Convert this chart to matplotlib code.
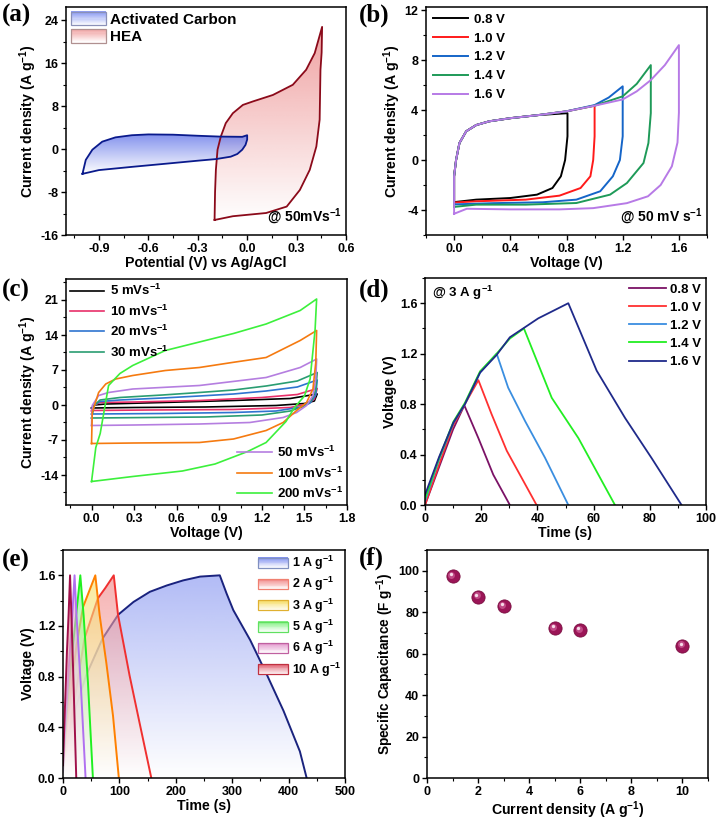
import numpy as np
import matplotlib
matplotlib.use("Agg")
import matplotlib.pyplot as plt
from matplotlib.patches import Polygon, Rectangle, Patch
from matplotlib.legend_handler import HandlerBase
from matplotlib.colors import to_rgb
from matplotlib.ticker import MultipleLocator
import matplotlib.transforms as mtrans

plt.rcParams['font.family'] = ['Liberation Sans', 'DejaVu Sans']
plt.rcParams['font.weight'] = 'bold'
plt.rcParams['axes.labelweight'] = 'bold'
plt.rcParams['mathtext.fontset'] = 'custom'
plt.rcParams['mathtext.rm'] = 'Liberation Sans:bold'
plt.rcParams['mathtext.bf'] = 'Liberation Sans:bold'
plt.rcParams['mathtext.default'] = 'bf'
plt.rcParams['axes.unicode_minus'] = False

# ---------------- data ----------------
# (a) CV comparison
ac_v = [-1.0, -0.98, -0.94, -0.88, -0.8, -0.7, -0.6, -0.45, -0.3, -0.17, -0.03, 0.0,
        0.0, -0.01, -0.03, -0.06, -0.1, -0.19, -0.3, -0.49, -0.7, -0.9, -1.0]
ac_i = [-4.6, -2.0, -0.1, 1.4, 2.2, 2.6, 2.75, 2.7, 2.5, 2.35, 2.3, 2.6,
        1.8, 0.8, -0.1, -0.9, -1.4, -1.85, -2.15, -2.7, -3.3, -3.9, -4.6]
hea_v = [-0.198, -0.195, -0.19, -0.18, -0.16, -0.13, -0.087, -0.026, 0.035, 0.156, 0.277,
         0.358, 0.41, 0.455, 0.452, 0.445, 0.44, 0.42, 0.38, 0.32, 0.24, 0.115, -0.087, -0.198]
hea_i = [-13.2, -8.0, -3.85, -0.1, 2.36, 4.85, 6.7, 8.25, 8.9, 10.1, 12.0,
         14.8, 17.9, 22.8, 18.0, 14.8, 5.5, 0.5, -3.85, -7.6, -10.7, -11.9, -12.5, -13.2]

# (b) CV at different windows
b_labels = ['0.8 V', '1.0 V', '1.2 V', '1.4 V', '1.6 V']
b_colors = ['#000000', '#ff1a1a', '#1565c8', '#1e9a58', '#b77ae6']
b_v = [
    [0, 0, 0.014, 0.038, 0.086, 0.157, 0.25, 0.4, 0.6, 0.807, 0.807, 0.79, 0.76, 0.7, 0.59, 0.4, 0.157, 0],
    [0, 0, 0.014, 0.038, 0.086, 0.157, 0.25, 0.4, 0.6, 0.8, 1.0, 1.0, 0.99, 0.97, 0.9, 0.75, 0.51, 0.16, 0],
    [0, 0, 0.014, 0.038, 0.086, 0.157, 0.25, 0.4, 0.6, 0.8, 1.0, 1.1, 1.2, 1.2, 1.18, 1.13, 1.04, 0.87, 0.63, 0.28, 0],
    [0, 0, 0.014, 0.038, 0.086, 0.157, 0.25, 0.4, 0.6, 0.8, 1.0, 1.2, 1.3, 1.4, 1.4, 1.383, 1.348, 1.23, 1.11, 0.87, 0.51, 0.157, 0],
    [0, 0, 0.014, 0.038, 0.086, 0.157, 0.25, 0.4, 0.6, 0.8, 1.0, 1.2, 1.3, 1.4, 1.5, 1.6, 1.6, 1.59, 1.55, 1.47, 1.38, 1.23, 0.99, 0.75, 0.4, 0.09, 0],
]
b_i = [
    [-3.37, -1.3, 0, 1.36, 2.3, 2.8, 3.1, 3.35, 3.6, 3.75, 1.9, 0, -1.3, -2.24, -2.77, -3.04, -3.17, -3.37],
    [-3.4, -1.3, 0, 1.36, 2.3, 2.8, 3.1, 3.35, 3.6, 3.9, 4.35, 1.9, 0, -1.3, -2.24, -2.85, -3.17, -3.3, -3.4],
    [-3.55, -1.3, 0, 1.36, 2.3, 2.8, 3.1, 3.35, 3.6, 3.9, 4.4, 5.0, 5.9, 1.9, 0, -1.3, -2.5, -3.17, -3.38, -3.45, -3.55],
    [-3.75, -1.3, 0, 1.36, 2.3, 2.8, 3.1, 3.35, 3.6, 3.9, 4.35, 5.1, 6.1, 7.6, 3.76, 1.36, -0.24, -1.84, -2.77, -3.44, -3.57, -3.57, -3.75],
    [-4.3, -1.3, 0, 1.36, 2.3, 2.8, 3.1, 3.35, 3.6, 3.9, 4.35, 4.85, 5.5, 6.4, 7.6, 9.2, 3.8, 1.4, -0.5, -2.0, -2.9, -3.45, -3.85, -3.95, -3.95, -3.9, -4.3],
]

# (c) CV at different scan rates
c_labels = ['5 mVs$^{-1}$', '10 mVs$^{-1}$', '20 mVs$^{-1}$', '30 mVs$^{-1}$',
            '50 mVs$^{-1}$', '100 mVs$^{-1}$', '200 mVs$^{-1}$']
c_colors = ['#000000', '#e8306a', '#2f74d0', '#2a9d72', '#b57ee0', '#f57a10', '#3cf03c']
c_v = [
    [0, 0.02, 0.1, 0.5, 1.0, 1.4, 1.59, 1.57, 1.5, 1.3, 0.8, 0.3, 0],
    [0, 0.02, 0.06, 0.3, 0.76, 1.2, 1.45, 1.59, 1.57, 1.52, 1.4, 1.0, 0.4, 0],
    [0, 0.02, 0.06, 0.2, 0.5, 0.76, 1.0, 1.23, 1.45, 1.59, 1.58, 1.54, 1.48, 1.3, 1.0, 0.5, 0],
    [0, 0.02, 0.06, 0.2, 0.5, 0.76, 1.0, 1.23, 1.45, 1.59, 1.58, 1.55, 1.5, 1.4, 1.2, 0.8, 0.4, 0],
    [0, 0.005, 0.05, 0.12, 0.29, 0.76, 1.23, 1.47, 1.586, 1.58, 1.56, 1.515, 1.445, 1.35, 1.115, 0.76, 0.3, 0],
    [0, 0.005, 0.05, 0.1, 0.17, 0.29, 0.52, 0.76, 0.99, 1.23, 1.47, 1.586, 1.58, 1.56, 1.515, 1.445, 1.35, 1.23, 1.0, 0.76, 0.3, 0],
    [0, 0.03, 0.061, 0.12, 0.2, 0.29, 0.52, 0.76, 1.0, 1.23, 1.47, 1.586, 1.575, 1.54, 1.5, 1.43, 1.37, 1.23, 1.1, 0.87, 0.64, 0.29, 0],
]
c_i = [
    [-0.6, 0, 0.2, 0.5, 0.9, 1.3, 2.2, 0.8, 0.3, -0.1, -0.4, -0.5, -0.6],
    [-1.2, 0, 0.5, 0.6, 0.9, 1.5, 2.1, 3.3, 1.2, 0.2, -0.5, -0.9, -1.0, -1.1],
    [-1.8, 0, 0.7, 1.0, 1.4, 1.8, 2.2, 2.8, 3.6, 5.0, 2.0, 0.4, -0.4, -1.2, -1.5, -1.7, -1.8],
    [-2.6, 0, 1.0, 1.5, 2.0, 2.5, 3.0, 3.8, 4.8, 6.5, 3.0, 1.0, -0.2, -1.2, -2.0, -2.4, -2.5, -2.6],
    [-4.1, -0.1, 1.9, 2.5, 3.2, 3.9, 5.5, 7.5, 9.2, 5.2, 1.9, -0.1, -1.5, -2.5, -3.5, -3.8, -4.0, -4.1],
    [-7.7, -1.5, 2.5, 4.2, 5.2, 5.9, 6.9, 7.5, 8.5, 9.5, 12.9, 14.9, 8.5, 3.2, 0.5, -1.1, -3.5, -5.1, -6.8, -7.5, -7.6, -7.7],
    [-15.3, -8.5, -5.7, 3.9, 6.3, 7.9, 10.9, 12.6, 14.3, 16.2, 18.9, 21.2, 15.0, 5.2, 1.8, -0.5, -3.3, -7.5, -9.3, -11.8, -13.2, -14.3, -15.3],
]

# (d) GCD at 3 A/g, different windows
d_labels = ['0.8 V', '1.0 V', '1.2 V', '1.4 V', '1.6 V']
d_colors = ['#7b1266', '#ff3030', '#3a8ee0', '#22ee22', '#1f2a8a']
d_t = [
    [0, 5, 10, 14, 19, 24.3, 30.2],
    [0, 5, 10, 14.2, 19, 23.7, 29.1, 39.7],
    [0, 5, 10.1, 14.2, 19.6, 25.5, 29.6, 35.6, 42.7, 51.0],
    [0, 5, 10.1, 14.2, 19.6, 25.5, 30.2, 35.2, 45.1, 54.6, 67.6],
    [0, 5, 10.1, 14.2, 19.6, 25.5, 30.2, 35.6, 40.3, 51.0, 61.1, 71.2, 80.7, 91.3],
]
d_v = [
    [0.0, 0.3, 0.6, 0.79, 0.53, 0.24, 0.0],
    [0.0, 0.32, 0.63, 0.8, 0.99, 0.72, 0.43, 0.0],
    [0.03, 0.36, 0.65, 0.8, 1.05, 1.2, 0.93, 0.666, 0.375, 0.0],
    [0.05, 0.37, 0.66, 0.81, 1.06, 1.2, 1.32, 1.4, 0.85, 0.53, 0.0],
    [0.08, 0.38, 0.653, 0.8, 1.05, 1.19, 1.33, 1.41, 1.48, 1.6, 1.065, 0.69, 0.37, 0.0],
]

# (e) GCD at different current densities
e_labels = ['1 A g$^{-1}$', '2 A g$^{-1}$', '3 A g$^{-1}$', '5 A g$^{-1}$', '6 A g$^{-1}$', '10 A g$^{-1}$']
e_line = ['#1a237e', '#f03030', '#ff8000', '#20f020', '#b070f0', '#a0104a']
e_fill = ['#7f8ff0', '#f08080', '#f5dc60', '#80f080', '#e090c8', '#e06070']
e_edge = ['#8090c0', '#f08070', '#e0b030', '#60e060', '#c060a0', '#c03040']
e_t = [
    [0, 10, 20, 41, 70, 98, 125, 154, 184, 213, 243, 278, 290, 302, 332, 361, 391, 420, 432],
    [0, 8, 20, 38, 62, 75, 90, 97.5, 118, 136, 156.6],
    [0, 6, 14, 24, 35.5, 57.3, 65, 76.8, 88.7, 99],
    [0, 5, 12, 20, 30.7, 36.6, 44.3, 53],
    [0, 4, 10, 16, 20.5, 24, 32, 40],
    [0, 3, 7, 10, 12.5, 15, 19, 23.5],
]
e_v = [
    [0.05, 0.32, 0.52, 0.81, 1.1, 1.29, 1.39, 1.47, 1.52, 1.56, 1.59, 1.6, 1.457, 1.325, 1.088, 0.82, 0.53, 0.21, 0.0],
    [0.05, 0.3, 0.6, 1.1, 1.42, 1.5, 1.6, 1.29, 0.81, 0.43, 0.0],
    [0.05, 0.35, 0.7, 1.05, 1.35, 1.6, 1.285, 0.91, 0.49, 0.0],
    [0.05, 0.4, 0.8, 1.15, 1.6, 1.28, 0.75, 0.0],
    [0.05, 0.4, 0.85, 1.25, 1.6, 1.28, 0.7, 0.0],
    [0.1, 0.5, 1.0, 1.3, 1.6, 1.28, 0.7, 0.0],
]

# (f) specific capacitance
f_current = [1, 2, 3, 5, 6, 10]
f_cap = [97.3, 87.5, 82.9, 72.3, 71.4, 63.9]

# ---------------- helpers ----------------
def grad_fill(ax, xs, ys, color, alpha, z):
    poly = Polygon(np.column_stack([xs, ys]), closed=True, facecolor='none',
                   edgecolor='none', transform=ax.transData)
    ax.add_patch(poly)
    n = 200
    rgb = np.array(to_rgb(color))
    t = np.linspace(0, 1, n)[:, None]
    img = np.ones((n, 2, 4))
    img[:, :, :3] = ((1 - t) * np.ones(3) + t * rgb)[:, None, :]
    img[:, :, 3] = alpha
    im = ax.imshow(img, extent=[min(xs), max(xs), min(ys), max(ys)], origin='lower',
                   aspect='auto', zorder=z, interpolation='bilinear')
    im.set_clip_path(poly)


class GradHandler(HandlerBase):
    def __init__(self, color, edge):
        super().__init__()
        self.color = np.array(to_rgb(color))
        self.edge = edge

    def create_artists(self, legend, orig_handle, xdescent, ydescent, width, height, fontsize, trans):
        arts = []
        n = 12
        for k in range(n):
            f = (k + 0.5) / n
            c = (1 - f) * np.ones(3) + f * self.color
            arts.append(Rectangle((-xdescent, -ydescent + height * k / n), width, height / n + 0.2,
                                  facecolor=c, edgecolor='none', transform=trans))
        arts.append(Rectangle((-xdescent, -ydescent), width, height, fill=False,
                              edgecolor=self.edge, lw=0.9, transform=trans))
        return arts


def style(ax, xmaj, ymaj):
    ax.xaxis.set_major_locator(MultipleLocator(xmaj))
    ax.xaxis.set_minor_locator(MultipleLocator(xmaj / 2))
    ax.yaxis.set_major_locator(MultipleLocator(ymaj))
    ax.yaxis.set_minor_locator(MultipleLocator(ymaj / 2))
    ax.tick_params(which='major', direction='out', length=3.5, width=1, labelsize=9, pad=2)
    ax.tick_params(which='minor', direction='out', length=2, width=0.8)
    for s in ax.spines.values():
        s.set_linewidth(1.1)


fig = plt.figure(figsize=(7.2, 8.21), dpi=100)
W, H = 720.0, 821.0


def add_ax(l, t, r, b):
    return fig.add_axes([l / W, 1 - b / H, (r - l) / W, (b - t) / H])


lab_fs = 10.2
# ---------------- (a) ----------------
ax = add_ax(66, 7, 346, 235)
grad_fill(ax, hea_v, hea_i, '#ec8a8a', 0.8, 1)
ax.plot(hea_v, hea_i, color='#8b0a1a', lw=1.3, zorder=3)
grad_fill(ax, ac_v, ac_i, '#5a6ee8', 0.75, 2)
ax.plot(ac_v, ac_i, color='#0a1a8c', lw=1.3, zorder=3)
ax.set_xlim(-1.1, 0.6)
ax.set_ylim(-16, 26.5)
style(ax, 0.3, 8)
ax.set_xlabel('Potential (V) vs Ag/AgCl', fontsize=lab_fs, labelpad=1)
ax.set_ylabel('Current density (A g$^{-1}$)', fontsize=lab_fs, labelpad=1)
h1, h2 = Patch(), Patch()
ax.legend([h1, h2], ['Activated Carbon', 'HEA'], loc='upper left', frameon=False,
          fontsize=11, handlelength=2.3, handleheight=1.0, handletextpad=0.3,
          labelspacing=0.15, borderaxespad=0.1, borderpad=0.2,
          handler_map={h1: GradHandler('#8a9af2', '#8a90b8'), h2: GradHandler('#f0a0a0', '#b09090')})
ax.text(0.985, 0.035, '@ 50mVs$^{-1}$', transform=ax.transAxes, ha='right', va='bottom', fontsize=10)

# ---------------- (b) ----------------
ax = add_ax(426, 7, 707, 235)
for v, i, c, l in zip(b_v, b_i, b_colors, b_labels):
    ax.plot(v, i, color=c, lw=1.4, label=l)
ax.set_xlim(-0.2, 1.8)
ax.set_ylim(-6, 12.25)
style(ax, 0.4, 4)
ax.set_xlabel('Voltage (V)', fontsize=lab_fs, labelpad=1)
ax.set_ylabel('Current density (A g$^{-1}$)', fontsize=lab_fs, labelpad=1)
ax.legend(loc='upper left', frameon=False, fontsize=9.5, handlelength=2.7, handletextpad=0.4,
          labelspacing=0.5, borderaxespad=0.2, borderpad=0.3)
ax.text(0.985, 0.035, '@ 50 mV s$^{-1}$', transform=ax.transAxes, ha='right', va='bottom', fontsize=10)

# ---------------- (c) ----------------
ax = add_ax(66, 279, 347, 505)
lines_c = []
for v, i, c, l in zip(c_v, c_i, c_colors, c_labels):
    ln, = ax.plot(v, i, color=c, lw=1.2, label=l)
    lines_c.append(ln)
ax.set_xlim(-0.18, 1.8)
ax.set_ylim(-20, 25.2)
style(ax, 0.3, 7)
ax.set_xlabel('Voltage (V)', fontsize=lab_fs, labelpad=1)
ax.set_ylabel('Current density (A g$^{-1}$)', fontsize=lab_fs, labelpad=1)
leg1 = ax.legend(lines_c[:4], c_labels[:4], loc='upper left', frameon=False, fontsize=9.5,
                 handlelength=2.6, handletextpad=0.4, labelspacing=0.4, borderaxespad=0.1, borderpad=0.2)
ax.add_artist(leg1)
ax.legend(lines_c[4:], c_labels[4:], loc='lower right', frameon=False, fontsize=9.5,
          handlelength=2.6, handletextpad=0.4, labelspacing=0.4, borderaxespad=0.1, borderpad=0.2)

# ---------------- (d) ----------------
ax = add_ax(425, 278, 706, 505)
for t, v, c, l in zip(d_t, d_v, d_colors, d_labels):
    ax.plot(t, v, color=c, lw=1.3, label=l)
ax.set_xlim(0, 100)
ax.set_ylim(0, 1.8)
style(ax, 20, 0.4)
ax.set_xlabel('Time (s)', fontsize=lab_fs, labelpad=1)
ax.set_ylabel('Voltage (V)', fontsize=lab_fs, labelpad=2)
ax.legend(loc='upper right', frameon=False, fontsize=9.5, handlelength=2.8, handletextpad=0.3,
          labelspacing=0.45, borderaxespad=0.1, borderpad=0.3)
ax.text(0.025, 0.975, '@ 3 A g$^{-1}$', transform=ax.transAxes, ha='left', va='top', fontsize=9.5)

# ---------------- (e) ----------------
ax = add_ax(63, 550, 345, 778)
for k, (t, v) in enumerate(zip(e_t, e_v)):
    grad_fill(ax, list(t) + [t[0]], list(v) + [0.0], e_fill[k], 0.6, 1 + k * 0.1)
    ax.plot(t, v, color=e_line[k], lw=1.4, zorder=1.05 + k * 0.1)
ax.set_xlim(0, 500)
ax.set_ylim(0, 1.8)
style(ax, 100, 0.4)
ax.set_xlabel('Time (s)', fontsize=lab_fs, labelpad=1)
ax.set_ylabel('Voltage (V)', fontsize=lab_fs, labelpad=2)
hs = [Patch() for _ in e_labels]
hmap = {h: GradHandler(e_fill[k], e_edge[k]) for k, h in enumerate(hs)}
ax.legend(hs, e_labels, loc='upper right', frameon=False, fontsize=9, handlelength=2.4,
          handleheight=0.85, handletextpad=0.3, labelspacing=0.25, borderaxespad=0.1, borderpad=0.2,
          handler_map=hmap)

# ---------------- (f) ----------------
ax = add_ax(427, 550, 708, 778)
ax.plot(f_current, f_cap, 'o', ms=9.5, color='#9b1557', mec='#7a0d40', mew=0.6, ls='none', zorder=3)
off1 = mtrans.ScaledTranslation(-0.9 / 72, 0.9 / 72, fig.dpi_scale_trans)
off2 = mtrans.ScaledTranslation(-1.4 / 72, 1.4 / 72, fig.dpi_scale_trans)
ax.plot(f_current, f_cap, 'o', ms=5, color='#c04a86', mec='none', ls='none', zorder=4,
        transform=ax.transData + off1)
ax.plot(f_current, f_cap, 'o', ms=2.4, color='#f6dbe8', mec='none', ls='none', zorder=5,
        transform=ax.transData + off2)
ax.set_xlim(0, 11)
ax.set_ylim(0, 110)
style(ax, 2, 20)
ax.set_xlabel('Current density (A g$^{-1}$)', fontsize=lab_fs, labelpad=1)
ax.set_ylabel('Specific Capacitance (F g$^{-1}$)', fontsize=9.8, labelpad=2)

# panel labels
for lbl, x, y in [('(a)', 2, 15), ('(b)', 359, 15), ('(c)', 2, 290), ('(d)', 359, 290),
                  ('(e)', 2, 560), ('(f)', 359, 558)]:
    fig.text(x / W, 1 - y / H, lbl, fontsize=18, fontweight='bold',
             family=['Liberation Serif', 'DejaVu Serif'], ha='left', va='center')

fig.savefig('out.png', dpi=100, facecolor='white')
